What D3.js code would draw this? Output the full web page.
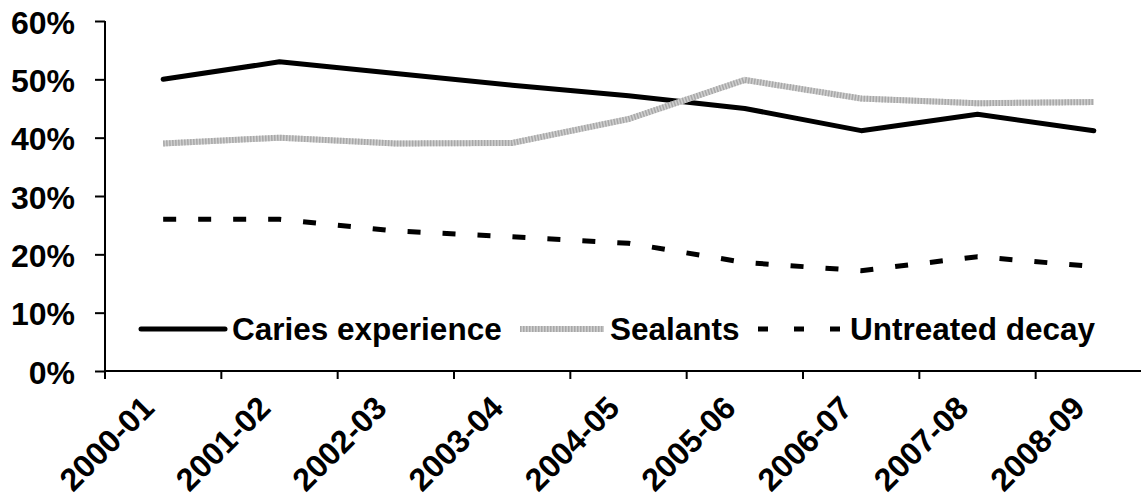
<!DOCTYPE html>
<html><head><meta charset="utf-8">
<script src="https://cdn.jsdelivr.net/npm/d3@7"></script>
<style>
html,body{margin:0;padding:0;background:#fff;}
svg{display:block;}
text{font-family:"Liberation Sans",Arial,sans-serif;font-weight:bold;fill:#000;}
</style></head>
<body>
<svg id="chart" width="1141" height="494"></svg>
<script>
const categories = ["2000-01","2001-02","2002-03","2003-04","2004-05","2005-06","2006-07","2007-08","2008-09"];
const caries = [50, 53, 51, 49, 47.2, 45, 41.2, 44, 41.2];
const sealants = [39, 40, 39, 39.1, 43.2, 49.9, 46.7, 45.9, 46.1];
const untreated = [26, 26, 24, 23, 21.9, 18.6, 17.2, 19.6, 17.9];
const yTicks = [0, 10, 20, 30, 40, 50, 60];
const seriesNames = ["Caries experience", "Sealants", "Untreated decay"];

(function () {
const svg = d3.select("#chart");
const pLeft = 105, pRight = 1152, pTop = 21, pBottom = 371;
const x = d3.scalePoint().domain(categories).range([pLeft, pRight]).padding(0.5);
const step = x.step();
const y = d3.scaleLinear().domain([0, 60]).range([pBottom, pTop]);

// y axis
const yAxis = svg.append("g").attr("transform", `translate(${pLeft},0)`)
  .call(d3.axisLeft(y).tickValues(yTicks).tickSize(10).tickPadding(20).tickFormat(d => d + "%"));
yAxis.select(".domain").attr("d", `M0,${pTop}V${pBottom}`).attr("stroke", "#000").attr("stroke-width", 2);
yAxis.selectAll(".tick line").attr("stroke", "#000").attr("stroke-width", 2);
yAxis.selectAll(".tick text").style("font-size", "32px").style("font-family", '"Liberation Sans",Arial,sans-serif').style("font-weight", "bold").attr("dy", "0.38em");

// x axis
const xg = svg.append("g");
xg.append("line").attr("x1", pLeft).attr("x2", 1141).attr("y1", pBottom).attr("y2", pBottom)
  .attr("stroke", "#000").attr("stroke-width", 2);
xg.selectAll("line.tk").data(d3.range(categories.length + 1)).join("line").attr("class", "tk")
  .attr("x1", i => x(categories[0]) - step / 2 + i * step)
  .attr("x2", i => x(categories[0]) - step / 2 + i * step)
  .attr("y1", pBottom).attr("y2", pBottom + 8).attr("stroke", "#000").attr("stroke-width", 2);
xg.selectAll("text.xl").data(categories).join("text").attr("class", "xl")
  .attr("transform", d => `translate(${x(d) - 23},${pBottom + 23}) rotate(-45)`)
  .attr("text-anchor", "end").attr("dy", "0.7em").style("font-size", "32px").text(d => d);

// lines
const line = d3.line().x((d, i) => x(categories[i])).y(d => y(d));
svg.append("path").datum(caries).attr("d", line).attr("fill", "none")
  .attr("stroke", "#000").attr("stroke-width", 5).attr("stroke-linecap", "round").attr("stroke-linejoin", "round");
svg.append("path").datum(sealants).attr("d", line).attr("fill", "none")
  .attr("stroke", "#cfcfcf").attr("stroke-width", 6).attr("stroke-linejoin", "miter");
svg.append("path").datum(sealants).attr("d", line).attr("fill", "none")
  .attr("stroke", "#a8a8a8").attr("stroke-width", 6).attr("stroke-dasharray", "1.5,1.5");
svg.append("path").datum(untreated).attr("d", line).attr("fill", "none")
  .attr("stroke", "#000").attr("stroke-width", 5).attr("stroke-dasharray", "13,22");

// legend
const lg = svg.append("g");
const ly = 329;
const lineStarts = [141, 520, 758];
const textStarts = [232, 610, 850];
seriesNames.forEach((name, i) => {
  const lx = lineStarts[i];
  const l = lg.append("line").attr("x1", lx).attr("x2", lx + 84).attr("y1", ly).attr("y2", ly);
  if (i === 0) l.attr("stroke", "#000").attr("stroke-width", 5).attr("stroke-linecap", "round");
  if (i === 1) {
    l.attr("stroke", "#cfcfcf").attr("stroke-width", 6);
    lg.append("line").attr("x1", lx).attr("x2", lx + 84).attr("y1", ly).attr("y2", ly)
      .attr("stroke", "#a8a8a8").attr("stroke-width", 6).attr("stroke-dasharray", "1.5,1.5");
  }
  if (i === 2) l.attr("stroke", "#000").attr("stroke-width", 5).attr("stroke-dasharray", "10,26");
  lg.append("text").attr("x", textStarts[i]).attr("y", ly + 11).style("font-size", "31.5px").text(name);
});
})();
</script>
</body></html>
